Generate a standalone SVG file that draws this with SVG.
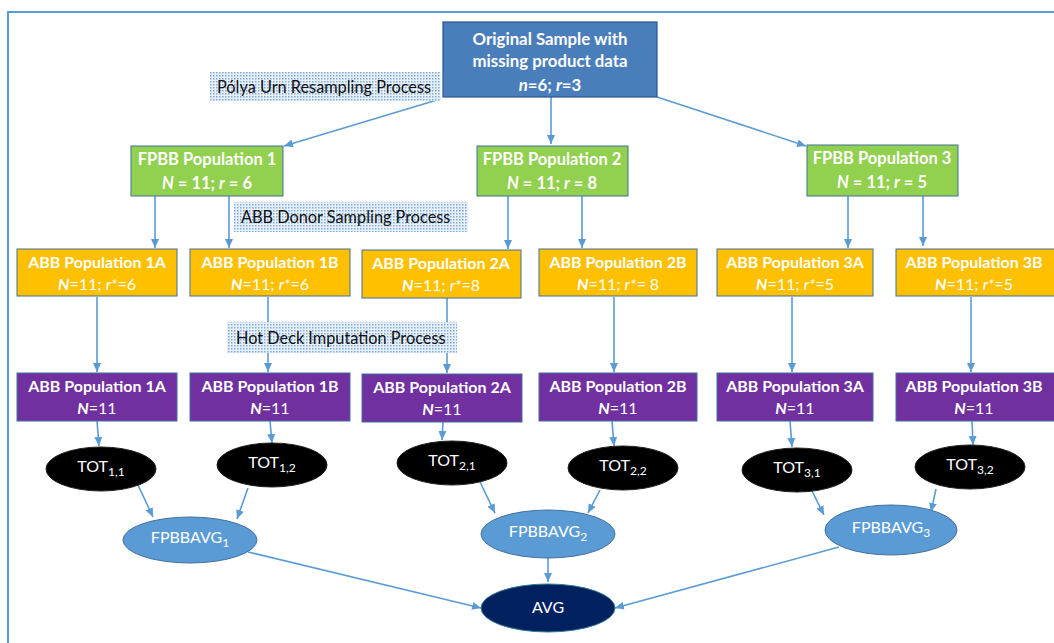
<svg xmlns="http://www.w3.org/2000/svg" width="1054" height="643" viewBox="0 0 1054 643">
<defs>
<pattern id="dots" width="3" height="3" patternUnits="userSpaceOnUse">
<rect width="3" height="3" fill="#e8f0fa"/>
<rect width="1.5" height="1.5" fill="#7fabdc"/>
</pattern>
<marker id="arr" markerUnits="userSpaceOnUse" markerWidth="10" markerHeight="10" viewBox="0 0 10 10" refX="9" refY="5" orient="auto">
<path d="M0,1 L9,5 L0,9 Z" fill="#5b9bd5"/>
</marker>
<style>
.t{font-family:Lato,"Open Sans","Liberation Sans",sans-serif;fill:#fff;text-anchor:middle;font-size:16px}
.b{font-weight:bold}
.i{font-style:italic}
.o{font-size:16.8px}
.f{font-size:16.5px}
.lbl{font-family:Lato,"Open Sans","Liberation Sans",sans-serif;font-size:16.3px;fill:#111}
.green{fill:#92d050;stroke:#41719c;stroke-width:1}
.orange{fill:#ffc000;stroke:#41719c;stroke-width:1}
.purple{fill:#7030a0;stroke:#41719c;stroke-width:1}
.top{fill:#4a7ebb;stroke:#2f528f;stroke-width:1.2}
.tot{fill:#000;stroke:#222;stroke-width:1}
.avg{fill:#5b9bd5;stroke:#41719c;stroke-width:1}
.fin{fill:#002060;stroke:#2f7f8f;stroke-width:1}
.c line{stroke:#5b9bd5;stroke-width:1.6;marker-end:url(#arr)}
</style>
</defs>
<rect x="0" y="0" width="1054" height="643" fill="#fff"/>
<rect x="8" y="12" width="1070" height="660" fill="none" stroke="#5b9bd5" stroke-width="2"/>

<g id="connectors" class="c">
<line x1="437" y1="100" x2="284" y2="146"/>
<line x1="551" y1="97" x2="551" y2="144"/>
<line x1="657" y1="97" x2="806" y2="146"/>
<line x1="155" y1="196" x2="155" y2="248"/>
<line x1="229" y1="196" x2="229" y2="248"/>
<line x1="508" y1="196" x2="508" y2="249"/>
<line x1="582" y1="196" x2="582" y2="248"/>
<line x1="848" y1="196" x2="848" y2="248"/>
<line x1="923" y1="196" x2="923" y2="246"/>
<line x1="97" y1="297" x2="97" y2="372"/>
<line x1="268" y1="297" x2="268" y2="372"/>
<line x1="447" y1="298" x2="447" y2="373"/>
<line x1="614" y1="297" x2="614" y2="372"/>
<line x1="792" y1="297" x2="792" y2="372"/>
<line x1="971" y1="297" x2="971" y2="372"/>
<line x1="97" y1="421" x2="99" y2="446"/>
<line x1="270" y1="421" x2="272" y2="443"/>
<line x1="443" y1="422" x2="442" y2="440"/>
<line x1="612" y1="421" x2="614" y2="446"/>
<line x1="790" y1="421" x2="792" y2="447"/>
<line x1="972" y1="421" x2="973" y2="445"/>
<line x1="138" y1="485" x2="153" y2="517"/>
<line x1="248" y1="488" x2="237" y2="519"/>
<line x1="480" y1="482" x2="495" y2="513"/>
<line x1="600" y1="490" x2="588" y2="513"/>
<line x1="812" y1="491" x2="824" y2="515"/>
<line x1="936" y1="489" x2="931" y2="512"/>
<line x1="248" y1="552" x2="481" y2="608"/>
<line x1="548" y1="558" x2="548" y2="582"/>
<line x1="839" y1="547" x2="615" y2="608"/>
</g>

<g id="label-polya"><rect x="210" y="72" width="231" height="29" fill="url(#dots)"/><text class="lbl" x="217" y="93">Pólya Urn Resampling Process</text></g>
<g id="label-donor"><rect x="234" y="202" width="234" height="30" fill="url(#dots)"/><text class="lbl" x="241" y="223">ABB Donor Sampling Process</text></g>
<g id="label-hotdeck"><rect x="227" y="322" width="230" height="31" fill="url(#dots)"/><text class="lbl" x="236" y="344">Hot Deck Imputation Process</text></g>

<g id="original"><rect class="top" x="443" y="22" width="214" height="75"/>
<text class="t b o" x="550" y="45">Original Sample with</text>
<text class="t b o" x="550" y="67">missing product data</text>
<text class="t b o" x="550" y="91"><tspan class="i">n</tspan>=6; <tspan class="i">r</tspan>=3</text></g>

<g id="fpbb1"><rect class="green" x="131" y="146" width="152" height="50"/>
<text class="t b f" x="207" y="165">FPBB Population 1</text>
<text class="t b f" x="207" y="189"><tspan class="i">N</tspan> = 11; <tspan class="i">r</tspan> = 6</text></g>
<g id="fpbb2"><rect class="green" x="477" y="146" width="151" height="50"/>
<text class="t b f" x="552" y="165">FPBB Population 2</text>
<text class="t b f" x="552" y="189"><tspan class="i">N</tspan> = 11; <tspan class="i">r</tspan> = 8</text></g>
<g id="fpbb3"><rect class="green" x="807" y="145" width="151" height="51"/>
<text class="t b f" x="882" y="164">FPBB Population 3</text>
<text class="t b f" x="882" y="188"><tspan class="i">N</tspan> = 11; <tspan class="i">r</tspan> = 5</text></g>

<g id="abb1a"><rect class="orange" x="17" y="249" width="160" height="47"/>
<text class="t b" x="97" y="268">ABB Population 1A</text>
<text class="t" x="97" y="290"><tspan class="b i">N</tspan>=11; <tspan class="i">r*</tspan>=6</text></g>
<g id="abb1b"><rect class="orange" x="190" y="249" width="160" height="47"/>
<text class="t b" x="270" y="268">ABB Population 1B</text>
<text class="t" x="270" y="290"><tspan class="b i">N</tspan>=11; <tspan class="i">r*</tspan>=6</text></g>
<g id="abb2a"><rect class="orange" x="362" y="250" width="159" height="48"/>
<text class="t b" x="441" y="269">ABB Population 2A</text>
<text class="t" x="441" y="291"><tspan class="b i">N</tspan>=11; <tspan class="i">r*</tspan>=8</text></g>
<g id="abb2b"><rect class="orange" x="539" y="249" width="158" height="47"/>
<text class="t b" x="618" y="268">ABB Population 2B</text>
<text class="t" x="618" y="290"><tspan class="b i">N</tspan>=11; <tspan class="i">r*</tspan>= 8</text></g>
<g id="abb3a"><rect class="orange" x="717" y="249" width="156" height="47"/>
<text class="t b" x="795" y="268">ABB Population 3A</text>
<text class="t" x="795" y="290"><tspan class="b i">N</tspan>=11; <tspan class="i">r*</tspan>=5</text></g>
<g id="abb3b"><rect class="orange" x="896" y="249" width="160" height="47"/>
<text class="t b" x="974" y="268">ABB Population 3B</text>
<text class="t" x="974" y="290"><tspan class="b i">N</tspan>=11; <tspan class="i">r*</tspan>=5</text></g>

<g id="imp1a"><rect class="purple" x="17" y="373" width="160" height="48"/>
<text class="t b" x="97" y="392">ABB Population 1A</text>
<text class="t" x="97" y="414"><tspan class="b i">N</tspan>=11</text></g>
<g id="imp1b"><rect class="purple" x="190" y="373" width="160" height="48"/>
<text class="t b" x="270" y="392">ABB Population 1B</text>
<text class="t" x="270" y="414"><tspan class="b i">N</tspan>=11</text></g>
<g id="imp2a"><rect class="purple" x="362" y="374" width="160" height="48"/>
<text class="t b" x="442" y="393">ABB Population 2A</text>
<text class="t" x="442" y="415"><tspan class="b i">N</tspan>=11</text></g>
<g id="imp2b"><rect class="purple" x="539" y="373" width="158" height="48"/>
<text class="t b" x="618" y="392">ABB Population 2B</text>
<text class="t" x="618" y="414"><tspan class="b i">N</tspan>=11</text></g>
<g id="imp3a"><rect class="purple" x="717" y="373" width="156" height="48"/>
<text class="t b" x="795" y="392">ABB Population 3A</text>
<text class="t" x="795" y="414"><tspan class="b i">N</tspan>=11</text></g>
<g id="imp3b"><rect class="purple" x="896" y="373" width="160" height="48"/>
<text class="t b" x="974" y="392">ABB Population 3B</text>
<text class="t" x="974" y="414"><tspan class="b i">N</tspan>=11</text></g>

<g id="tot11"><ellipse class="tot" cx="101" cy="469" rx="55" ry="22"/>
<text class="t" x="101" y="472">TOT<tspan font-size="12" dy="4">1,1</tspan></text></g>
<g id="tot12"><ellipse class="tot" cx="272" cy="465" rx="55" ry="22"/>
<text class="t" x="272" y="468">TOT<tspan font-size="12" dy="4">1,2</tspan></text></g>
<g id="tot21"><ellipse class="tot" cx="452" cy="463" rx="55" ry="22"/>
<text class="t" x="452" y="466">TOT<tspan font-size="12" dy="4">2,1</tspan></text></g>
<g id="tot22"><ellipse class="tot" cx="623" cy="468" rx="55" ry="22"/>
<text class="t" x="623" y="471">TOT<tspan font-size="12" dy="4">2,2</tspan></text></g>
<g id="tot31"><ellipse class="tot" cx="797" cy="470" rx="55" ry="22"/>
<text class="t" x="797" y="473">TOT<tspan font-size="12" dy="4">3,1</tspan></text></g>
<g id="tot32"><ellipse class="tot" cx="970" cy="467" rx="55" ry="22"/>
<text class="t" x="970" y="470">TOT<tspan font-size="12" dy="4">3,2</tspan></text></g>

<g id="avg1"><ellipse class="avg" cx="190" cy="540" rx="67" ry="23"/>
<text class="t" x="190" y="543">FPBBAVG<tspan font-size="12" dy="4">1</tspan></text></g>
<g id="avg2"><ellipse class="avg" cx="548" cy="534" rx="67" ry="24"/>
<text class="t" x="548" y="537">FPBBAVG<tspan font-size="12" dy="4">2</tspan></text></g>
<g id="avg3"><ellipse class="avg" cx="891" cy="530" rx="66" ry="25"/>
<text class="t" x="891" y="533">FPBBAVG<tspan font-size="12" dy="4">3</tspan></text></g>

<g id="avg"><ellipse class="fin" cx="548" cy="608" rx="67" ry="24"/>
<text class="t" x="548" y="613">AVG</text></g>
</svg>
